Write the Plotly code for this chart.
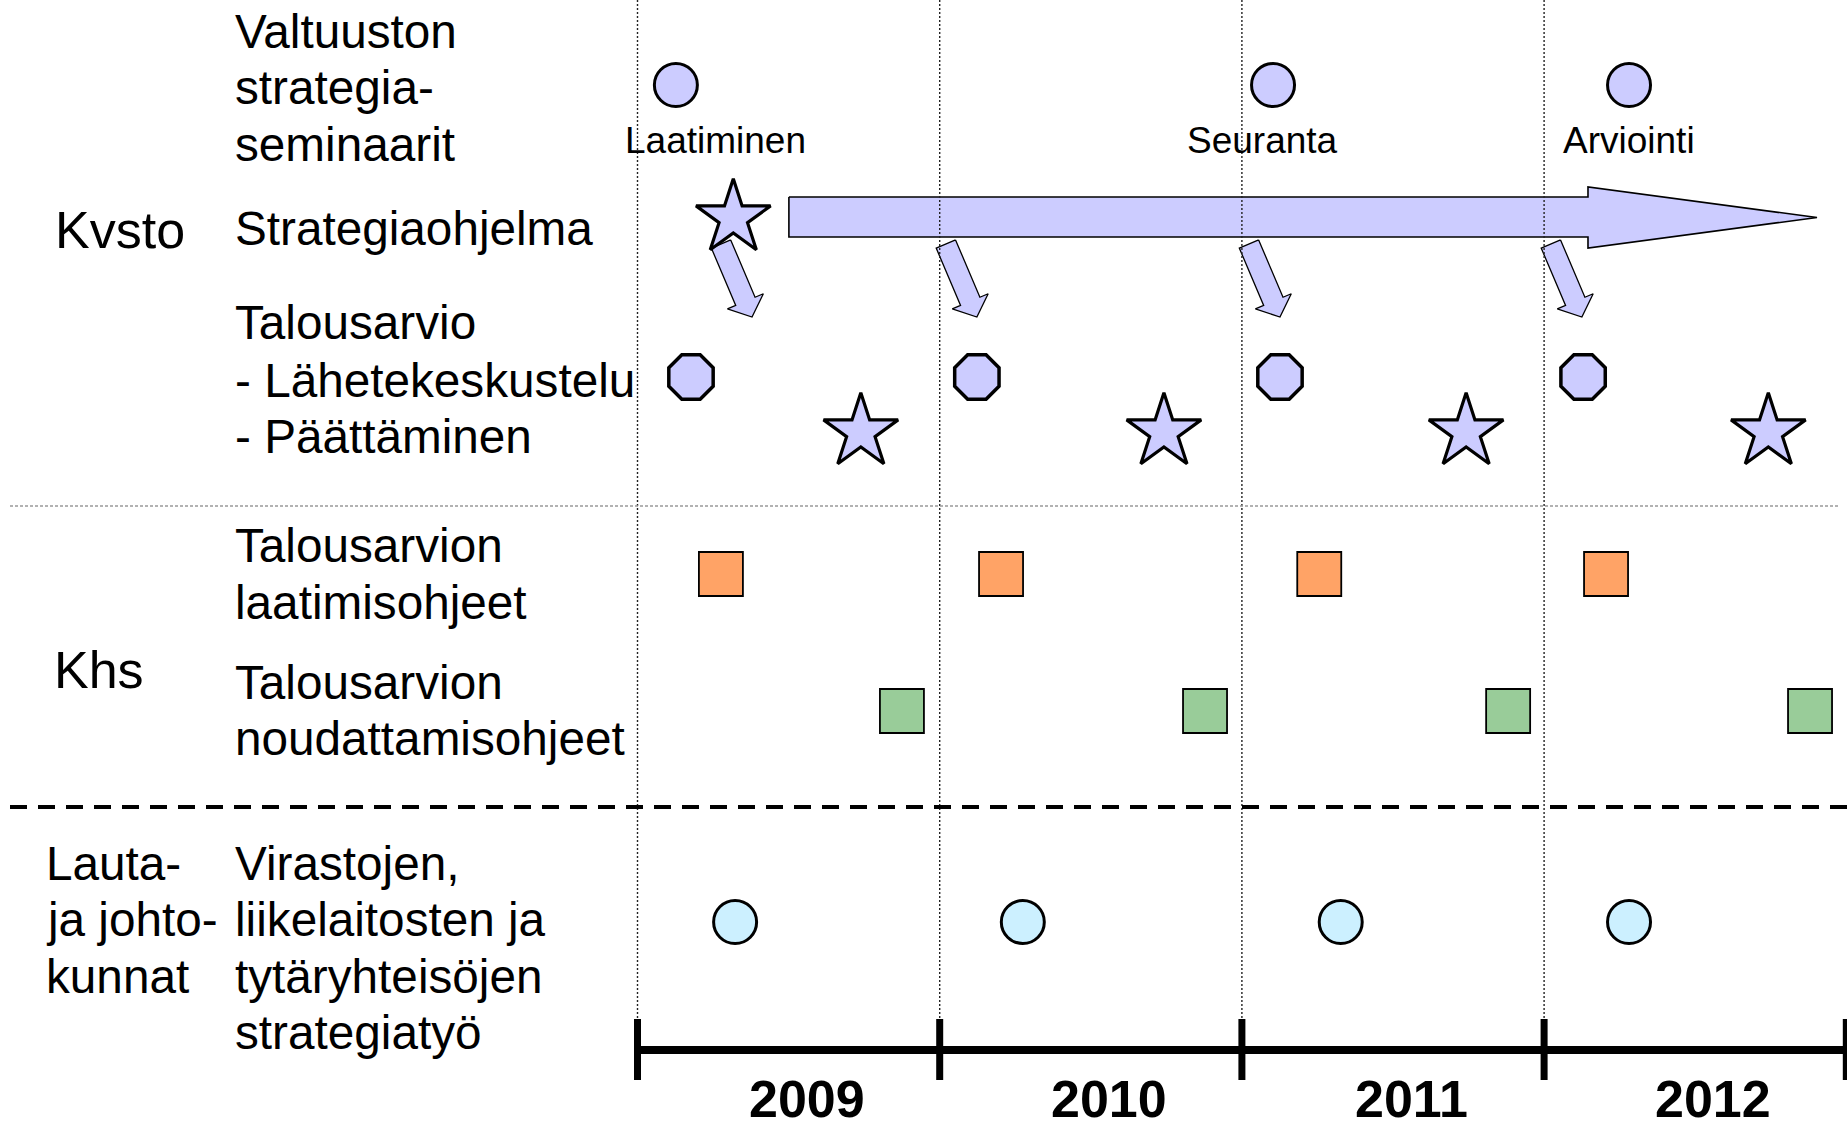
import plotly.graph_objects as go

# ---------------- data ----------------
years = [2009, 2010, 2011, 2012]
year_labels = ["2009", "2010", "2011", "2012"]
year_end = 2013

seminar_times = [2009.127, 2011.103, 2012.281]
seminar_labels = ["Laatiminen", "Seuranta", "Arviointi"]
seminar_label_times = [2009.258, 2011.068, 2012.281]

program_star_time = [2009.317]
program_arrow_span = [2009.501, 2012.903]          # start, tip
budget_arrow_tips = [2009.379, 2010.123, 2011.126, 2012.125]
budget_discussion_times = [2009.177, 2010.123, 2011.126, 2012.129]
budget_decision_times = [2009.739, 2010.742, 2011.742, 2012.742]
prep_guideline_times = [2009.276, 2010.203, 2011.256, 2012.205]
exec_guideline_times = [2009.875, 2010.878, 2011.881, 2012.880]
unit_strategy_times = [2009.323, 2010.275, 2011.327, 2012.281]

group_labels = [["Kvsto"], ["Khs"], ["Lauta-", "ja johto-", "kunnat"]]
row_labels = [
    ["Valtuuston", "strategia-", "seminaarit"],
    ["Strategiaohjelma"],
    ["Talousarvio", "- Lähetekeskustelu", "- Päättäminen"],
    ["Talousarvion", "laatimisohjeet"],
    ["Talousarvion", "noudattamisohjeet"],
    ["Virastojen,", "liikelaitosten ja", "tytäryhteisöjen", "strategiatyö"],
]

# ---------------- layout / geometry (pixels) ----------------
W, H = 1847, 1125
X0, PPY = 637.5, 302.2           # pixel of start of 2009, pixels per year


def yr(p):
    return 2009 + (p - X0) / PPY


def px(year):
    return X0 + (year - 2009) * PPY


ROW = dict(sem=85, prog=218, oct=377, star=432, orange=574, green=711, blue=922)
FONT = "Liberation Sans, Arial, sans-serif"
LAV = "#CCCCFF"

fig = go.Figure()

# big strategy-program arrow
xs, xe = px(program_arrow_span[0]), px(program_arrow_span[1])
head_len, sh_top, sh_bot, hd_top, hd_bot = 229, 197, 237, 187, 248
yc = (hd_top + hd_bot) / 2
pts = [(xs, sh_top), (xe - head_len, sh_top), (xe - head_len, hd_top), (xe, yc),
       (xe - head_len, hd_bot), (xe - head_len, sh_bot), (xs, sh_bot), (xs, sh_top)]
fig.add_trace(go.Scatter(x=[yr(p[0]) for p in pts], y=[p[1] for p in pts], mode="lines",
                         fill="toself", fillcolor=LAV, line=dict(color="black", width=1.6),
                         hoverinfo="skip"))

# small budget arrows
dx, dy = 31.0, 73.0
L = (dx ** 2 + dy ** 2) ** 0.5
ux, uy = dx / L, dy / L
nx, ny = uy, -ux
w, hw, hl = 10.5, 19.5, 17
tip_y = 317
for t in budget_arrow_tips:
    tx = px(t)
    Tx, Ty = tx - L * ux, tip_y - L * uy
    Bx, By = tx - hl * ux, tip_y - hl * uy
    poly = [(Tx + w * nx, Ty + w * ny), (Bx + w * nx, By + w * ny), (Bx + hw * nx, By + hw * ny),
            (tx, tip_y), (Bx - hw * nx, By - hw * ny), (Bx - w * nx, By - w * ny),
            (Tx - w * nx, Ty - w * ny), (Tx + w * nx, Ty + w * ny)]
    fig.add_trace(go.Scatter(x=[yr(p[0]) for p in poly], y=[p[1] for p in poly], mode="lines",
                             fill="toself", fillcolor=LAV, line=dict(color="black", width=1.3),
                             hoverinfo="skip"))

# vertical dotted year lines
vx, vy = [], []
for y0 in years:
    vx += [y0, y0, None]
    vy += [0, 1019, None]
fig.add_trace(go.Scatter(x=vx, y=vy, mode="lines", line=dict(color="#222222", width=1.4, dash="2px,2px"),
                         hoverinfo="skip"))

# separators
fig.add_trace(go.Scatter(x=[yr(10), yr(1840)], y=[506, 506], mode="lines",
                         line=dict(color="#999999", width=1.3, dash="3px,2px"), hoverinfo="skip"))
fig.add_trace(go.Scatter(x=[yr(10), yr(W)], y=[807, 807], mode="lines",
                         line=dict(color="black", width=4, dash="17px,11px"), hoverinfo="skip"))

# timeline
fig.add_trace(go.Scatter(x=[years[0], year_end], y=[1050, 1050], mode="lines",
                         line=dict(color="black", width=8), hoverinfo="skip"))
tx_, ty_ = [], []
for y0 in years + [year_end]:
    tx_ += [y0, y0, None]
    ty_ += [1019, 1080, None]
fig.add_trace(go.Scatter(x=tx_, y=ty_, mode="lines", line=dict(color="black", width=7), hoverinfo="skip"))


def markers(xv, yrow, symbol, size, color, lw):
    fig.add_trace(go.Scatter(x=xv, y=[yrow] * len(xv), mode="markers", hoverinfo="skip",
                             marker=dict(symbol=symbol, size=size, color=color,
                                         line=dict(color="black", width=lw))))


markers(seminar_times, ROW["sem"], "circle", 43, LAV, 3)
markers(program_star_time, ROW["prog"], "star", 56, LAV, 3.2)
markers(budget_discussion_times, ROW["oct"], "octagon", 48, LAV, 3.5)
markers(budget_decision_times, ROW["star"], "star", 56, LAV, 3.2)
markers(prep_guideline_times, ROW["orange"], "square", 44, "#FFA366", 1.8)
markers(exec_guideline_times, ROW["green"], "square", 44, "#99CC99", 1.8)
markers(unit_strategy_times, ROW["blue"], "circle", 43, "#CCF0FF", 3)

ann = []


def text(x_px, baseline, s, size, bold=False, anchor="left", xdata=None):
    ann.append(dict(
        x=xdata if xdata is not None else x_px / W,
        xref="x" if xdata is not None else "paper",
        y=baseline - 0.35 * size, yref="y", text=("<b>%s</b>" % s) if bold else s,
        showarrow=False, xanchor=anchor, yanchor="middle",
        font=dict(family=FONT, size=size, color="black")))


# event labels
for t, s in zip(seminar_label_times, seminar_labels):
    text(None, 153, s, 37, anchor="center", xdata=t)

# year labels
for y0, s in zip(years, year_labels):
    text(None, 1117, s, 52, bold=True, anchor="center", xdata=y0 + 0.56)

# group labels
text(53, 248, group_labels[0][0], 52)
text(52, 688, group_labels[1][0], 52)
for s, b in zip(group_labels[2], [880, 936, 993]):
    text(44, b, s, 47.7)

# row labels
row_baselines = [[48, 104, 161], [245], [339, 397, 453], [562, 619], [699, 755], [880, 936, 993, 1049]]
for lines, bases in zip(row_labels, row_baselines):
    for s, b in zip(lines, bases):
        text(233, b, s, 47.7)

fig.update_layout(
    width=W, height=H, margin=dict(l=0, r=0, t=0, b=0),
    paper_bgcolor="white", plot_bgcolor="white", showlegend=False, hovermode=False,
    xaxis=dict(range=[yr(0), yr(W)], visible=False, fixedrange=True),
    yaxis=dict(range=[H, 0], visible=False, fixedrange=True),
    annotations=ann,
)

fig.write_html("out.html", config={"displayModeBar": False},
               post_script="document.body.style.margin='0px';document.body.style.overflow='hidden';")
